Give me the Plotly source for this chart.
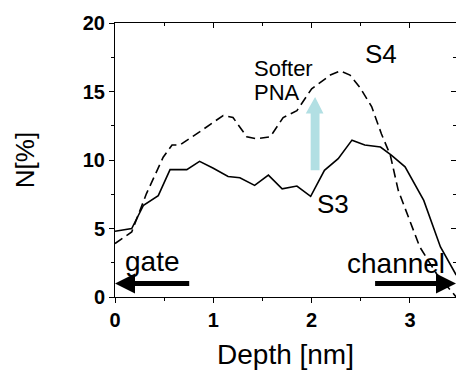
import plotly.graph_objects as go

# S3 (solid) and S4 (dashed) nitrogen profiles
depth_s3 = [0.0, 0.17, 0.29, 0.44, 0.56, 0.73, 0.86, 1.0, 1.15, 1.27, 1.42, 1.56, 1.70,
            1.85, 1.99, 2.13, 2.27, 2.41, 2.54, 2.70, 2.81, 2.95, 3.14, 3.31, 3.47]
n_s3 = [4.8, 5.0, 6.7, 7.4, 9.3, 9.3, 9.9, 9.4, 8.8, 8.7, 8.15, 8.9, 7.9,
        8.1, 7.35, 9.25, 10.1, 11.45, 11.1, 10.95, 10.35, 9.5, 7.05, 3.65, 1.6]

depth_s4 = [0.0, 0.17, 0.32, 0.49, 0.58, 0.66, 0.86, 1.10, 1.20, 1.34, 1.44, 1.58, 1.71,
            1.85, 2.0, 2.19, 2.29, 2.39, 2.49, 2.61, 2.71, 2.80, 2.88, 2.98, 3.10, 3.27, 3.47]
n_s4 = [3.9, 4.75, 7.55, 10.2, 11.1, 11.1, 12.05, 13.25, 13.1, 11.7, 11.55, 11.7, 13.1,
        13.6, 15.2, 16.2, 16.5, 16.2, 15.3, 13.9, 11.9, 10.35, 7.8, 5.85, 3.65, 1.7, 0.0]

x_ticks = [0, 1, 2, 3]
y_ticks = [0, 5, 10, 15, 20]

FONT = "Liberation Sans, Arial, sans-serif"

fig = go.Figure()
fig.add_trace(go.Scatter(x=depth_s4, y=n_s4, mode="lines", name="S4",
                         line=dict(color="black", width=1.6, dash="9px,5px")))
fig.add_trace(go.Scatter(x=depth_s3, y=n_s3, mode="lines", name="S3",
                         line=dict(color="black", width=1.6)))
# invisible trace to activate mirrored axes with inward ticks
fig.add_trace(go.Scatter(x=[0], y=[0], xaxis="x2", yaxis="y2", mode="markers",
                         marker=dict(opacity=0), showlegend=False, hoverinfo="skip"))

# light blue "softer PNA" arrow
fig.add_shape(type="path", xref="x", yref="y",
              path="M 1.99 9.25 L 2.08 9.25 L 2.08 13.4 L 2.12 13.4 L 2.035 14.6 "
                   "L 1.94 13.4 L 1.99 13.4 Z",
              fillcolor="#b2dfe3", line=dict(width=0))

ann_font = dict(family=FONT, size=26, color="black")
big_font = dict(family=FONT, size=28, color="black")
fig.add_annotation(x=2.705, y=17.72, text="S4", showarrow=False, font=ann_font)
fig.add_annotation(x=2.222, y=6.77, text="S3", showarrow=False, font=ann_font)
fig.add_annotation(x=1.393, y=16.66, text="Softer", showarrow=False, xanchor="left",
                   font=dict(family=FONT, size=22, color="black"))
fig.add_annotation(x=1.393, y=14.9, text="PNA", showarrow=False, xanchor="left",
                   font=dict(family=FONT, size=22, color="black"))
fig.add_annotation(x=0.381, y=2.6, text="gate", showarrow=False, font=big_font)
fig.add_annotation(x=2.853, y=2.45, text="channel", showarrow=False, font=big_font)

# gate / channel arrows
fig.add_annotation(x=0.0, y=0.98, ax=0.77, ay=0.98, axref="x", ayref="y",
                   xref="x", yref="y", text="", showarrow=True,
                   arrowhead=2, arrowsize=0.8, arrowwidth=5, arrowcolor="black")
fig.add_annotation(x=3.468, y=0.98, ax=2.63, ay=0.98, axref="x", ayref="y",
                   xref="x", yref="y", text="", showarrow=True,
                   arrowhead=2, arrowsize=0.8, arrowwidth=5, arrowcolor="black")

tick_font = dict(family=FONT, size=20, color="black", weight="bold")
fig.update_layout(
    width=456, height=371,
    margin=dict(l=115, r=0, t=23, b=74),
    paper_bgcolor="white", plot_bgcolor="white",
    showlegend=False,
    xaxis=dict(range=[0, 3.468], tickvals=x_ticks, ticktext=[str(v) for v in x_ticks],
               ticks="outside", ticklen=5, tickwidth=1, tickcolor="black",
               minor=dict(dtick=0.5, tick0=0, ticks="outside", ticklen=3, tickcolor="black"),
               showline=True, linecolor="black", linewidth=1, showgrid=False,
               zeroline=False, tickfont=tick_font, automargin=False,
               title=dict(text="Depth [nm]", font=dict(family=FONT, size=28, color="black"),
                          standoff=14)),
    yaxis=dict(range=[0, 20], tickvals=y_ticks, ticktext=[str(v) for v in y_ticks],
               ticks="outside", ticklen=5, tickwidth=1, tickcolor="black",
               minor=dict(dtick=2.5, tick0=0, ticks="outside", ticklen=3, tickcolor="black"),
               showline=True, linecolor="black", linewidth=1, showgrid=False,
               zeroline=False, tickfont=tick_font, automargin=False,
               title=dict(text="N[%]", font=dict(family=FONT, size=26, color="black"),
                          standoff=40)),
    xaxis2=dict(overlaying="x", side="top", matches="x", range=[0, 3.468],
                tickvals=x_ticks, ticks="inside", ticklen=5, tickcolor="black",
                minor=dict(dtick=0.5, tick0=0, ticks="inside", ticklen=3, tickcolor="black"),
                showticklabels=False, showline=True, linecolor="black", linewidth=1,
                showgrid=False, zeroline=False, automargin=False),
    yaxis2=dict(overlaying="y", side="right", range=[0, 20], anchor="x2",
                tickvals=y_ticks, ticks="inside", ticklen=5, tickcolor="black",
                minor=dict(dtick=2.5, tick0=0, ticks="inside", ticklen=3, tickcolor="black"),
                showticklabels=False, showline=True, linecolor="black", linewidth=1,
                showgrid=False, zeroline=False, automargin=False),
)

fig.write_html("out.html", config={"displayModeBar": False},
               post_script="document.body.style.margin='0';")
